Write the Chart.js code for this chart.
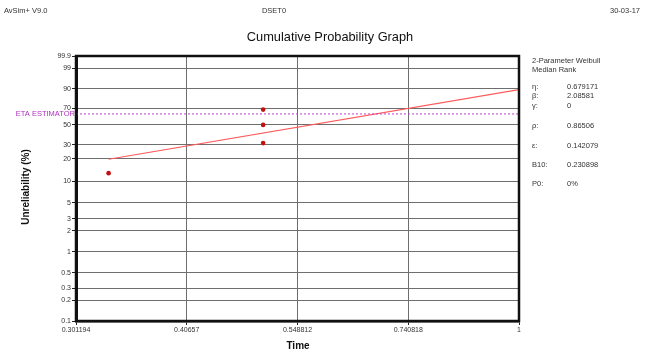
<!DOCTYPE html>
<html><head><meta charset="utf-8">
<script src="https://cdn.jsdelivr.net/npm/chart.js@4"></script>
<style>html,body{margin:0;padding:0;background:#fff}#wrap{width:645px;height:353px;position:relative}</style>
</head><body><div id="wrap"><canvas id="c"></canvas></div>
<script>
// ---- data ----
const timeTicks = [0.301194, 0.40657, 0.548812, 0.740818, 1];
const timeTickLabels = ["0.301194", "0.40657", "0.548812", "0.740818", "1"];
const percentTicks = [0.1, 0.2, 0.3, 0.5, 1, 2, 3, 5, 10, 20, 30, 50, 70, 90, 99, 99.9];
const percentTickLabels = ["0.1","0.2","0.3","0.5","1","2","3","5","10","20","30","50","70","90","99","99.9"];
const failTimes = [0.329, 0.5, 0.5, 0.5];
const failPercents = [12.96, 31.48, 50, 68.52];
const fitTimes = [0.329, 1];
const fitPercents = [19.8, 89.4];
const etaPercent = 63.2;
const paramLabels = ["\u03b7:", "\u03b2:", "\u03b3:", "\u03c1:", "\u03b5:", "B10:", "P0:"];
const paramValues = ["0.679171", "2.08581", "0", "0.86506", "0.142079", "0.230898", "0%"];

// Weibull probability-paper transforms (axis coordinates)
const wy = p => Math.log(-Math.log(1 - p / 100));
const lx = t => Math.log(t);

const FONT = "'Liberation Sans', Arial, sans-serif";

const textPlugin = {
  id: 'texts',
  afterDraw(chart) {
    const ctx = chart.ctx, a = chart.chartArea;
    ctx.save();
    // frame
    ctx.strokeStyle = '#111'; ctx.lineWidth = 2.5;
    ctx.strokeRect(a.left, a.top, a.right - a.left, a.bottom - a.top);
    ctx.fillStyle = '#333';
    ctx.textBaseline = 'middle';
    ctx.font = '7.5px ' + FONT;
    ctx.textAlign = 'left'; ctx.fillText('AvSim+ V9.0', 4, 11);
    ctx.textAlign = 'center'; ctx.fillText('DSET0', 274, 11);
    ctx.textAlign = 'right'; ctx.fillText('30-03-17', 640, 11);
    ctx.fillStyle = '#111';
    ctx.font = '12.8px ' + FONT; ctx.textAlign = 'center';
    ctx.fillText('Cumulative Probability Graph', 330, 37);
    ctx.font = 'bold 10px ' + FONT;
    ctx.fillText('Time', 298, 346);
    ctx.save(); ctx.translate(26, 187); ctx.rotate(-Math.PI / 2);
    ctx.fillText('Unreliability (%)', 0, 0); ctx.restore();
    // eta label
    const yEta = chart.scales.y.getPixelForValue(wy(etaPercent));
    ctx.fillStyle = '#b030c0'; ctx.font = '7.5px ' + FONT; ctx.textAlign = 'right';
    ctx.fillText('ETA ESTIMATOR', 75, yEta);
    // right panel
    ctx.fillStyle = '#333'; ctx.textAlign = 'left'; ctx.font = '7.5px ' + FONT;
    ctx.fillText('2-Parameter Weibull', 532, 61);
    ctx.fillText('Median Rank', 532, 70);
    const ys = [87, 96, 106, 126, 146, 165, 184];
    paramLabels.forEach((l, i) => {
      ctx.fillText(l, 532, ys[i]);
      ctx.fillText(paramValues[i], 567, ys[i]);
    });
    ctx.restore();
  }
};

new Chart(document.getElementById('c'), {
  type: 'scatter',
  data: {
    datasets: [
      { label: 'eta', data: [{x: lx(timeTicks[0]), y: wy(etaPercent)}, {x: lx(timeTicks[4]), y: wy(etaPercent)}],
        showLine: true, borderColor: '#c040d0', borderWidth: 1, borderDash: [2, 2], pointRadius: 0 },
      { label: 'fit', data: fitTimes.map((t, i) => ({x: lx(t), y: wy(fitPercents[i])})),
        showLine: true, borderColor: '#ff5a5a', borderWidth: 1.2, pointRadius: 0 },
      { label: 'failures', data: failTimes.map((t, i) => ({x: lx(t), y: wy(failPercents[i])})),
        pointRadius: 2.3, pointBackgroundColor: '#c01010', pointBorderColor: '#c01010', pointBorderWidth: 0 }
    ]
  },
  options: {
    responsive: true, maintainAspectRatio: false, animation: false,
    layout: { padding: { left: 0, top: 56, right: 126, bottom: 0 } },
    plugins: { legend: { display: false }, title: { display: false }, tooltip: { enabled: false } },
    scales: {
      x: {
        type: 'linear', min: lx(timeTicks[0]), max: lx(timeTicks[4]),
        afterBuildTicks: s => { s.ticks = timeTicks.map(t => ({ value: lx(t) })); },
        afterFit: s => { s.height = 32; },
        ticks: { autoSkip: false, maxRotation: 0, padding: 1, color: '#333', font: { size: 7, family: FONT },
                 callback: (v, i) => timeTickLabels[i] },
        grid: { color: '#6e6e6e', lineWidth: 1, tickLength: 4, tickColor: '#222' },
        border: { color: '#111', width: 2.5 }
      },
      y: {
        type: 'linear', min: wy(percentTicks[0]), max: wy(percentTicks[percentTicks.length - 1]),
        afterBuildTicks: s => { s.ticks = percentTicks.map(p => ({ value: wy(p) })); },
        afterFit: s => { s.width = 76; },
        ticks: { autoSkip: false, padding: 1, color: '#333', font: { size: 7, family: FONT },
                 callback: (v, i) => percentTickLabels[i] },
        grid: { color: '#6e6e6e', lineWidth: 1, tickLength: 4, tickColor: '#222' },
        border: { color: '#111', width: 3 }
      }
    }
  },
  plugins: [textPlugin]
});
</script></body></html>
